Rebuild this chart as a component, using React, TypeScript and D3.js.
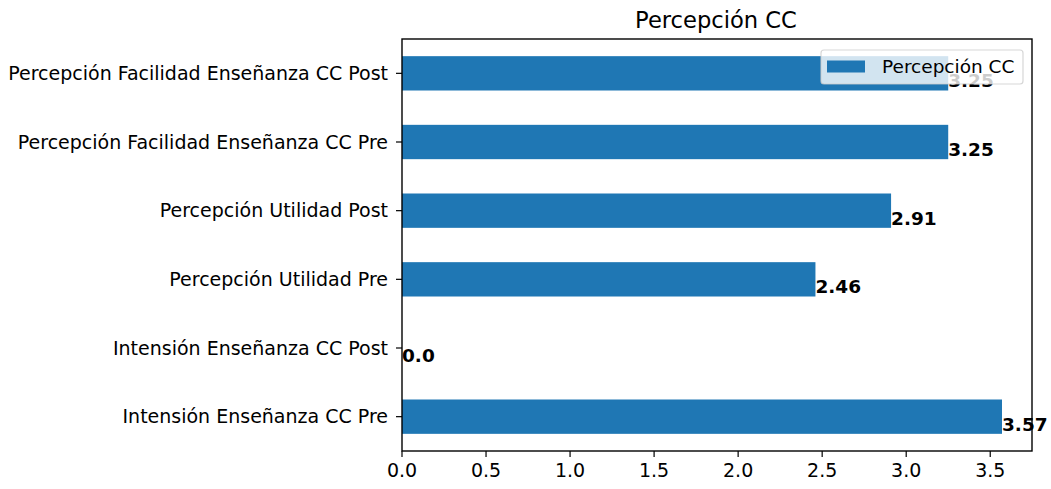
import React from 'react';
import * as d3 from 'd3';

// datos (de abajo hacia arriba, como en el barh de pandas)
const categories = [
  'Intensión Enseñanza CC Pre',
  'Intensión Enseñanza CC Post',
  'Percepción Utilidad Pre',
  'Percepción Utilidad Post',
  'Percepción Facilidad Enseñanza CC Pre',
  'Percepción Facilidad Enseñanza CC Post',
];
const values = [3.57, 0.0, 2.46, 2.91, 3.25, 3.25];
const xTickValues = [0, 0.5, 1, 1.5, 2, 2.5, 3, 3.5];
const seriesName = 'Percepción CC';
const title = 'Percepción CC';

const App = () => {
  const width = 1051;
  const height = 489;
  const margin = { top: 39, right: 19, bottom: 38, left: 402 };
  const innerWidth = width - margin.left - margin.right;
  const innerHeight = height - margin.top - margin.bottom;

  const font = '"DejaVu Sans", sans-serif';
  const fontSize = 19;
  const blue = '#1f77b4';

  // escalas
  const xScale = d3.scaleLinear().domain([0, d3.max(values)! * 1.05]).range([0, innerWidth]);
  const yScale = d3.scaleLinear().domain([-0.5, categories.length - 0.5]).range([innerHeight, 0]);
  const barH = yScale(0) - yScale(0.5);

  // leyenda
  const legend = { x: 419, y: 11, w: 202, h: 34 };

  return (
    <svg width={width} height={height} style={{ position: 'absolute', left: 0, top: 0 }} fontFamily={font}>
      <rect width={width} height={height} fill="white" />
      <text x={margin.left + innerWidth / 2 - 1} y={28} textAnchor="middle" fontSize={22.6} fill="#000">
        {title}
      </text>
      <g transform={`translate(${margin.left},${margin.top})`}>
        {/* barras */}
        {values.map((v, i) => (
          <rect
            key={categories[i]}
            x={xScale(0)}
            y={yScale(i) - barH / 2}
            width={xScale(v) - xScale(0)}
            height={barH}
            fill={blue}
          />
        ))}
        {/* etiquetas de valor */}
        {values.map((v, i) => (
          <text
            key={'lbl' + i}
            x={xScale(v)}
            y={yScale(i) + 14}
            fontSize={18.5}
            fontWeight="bold"
            fill="#000"
          >
            {String(v === 0 ? '0.0' : v)}
          </text>
        ))}
        {/* eje y */}
        {categories.map((c, i) => (
          <g key={c} transform={`translate(0,${yScale(i)})`}>
            <line x1={-6} x2={0} stroke="#000" strokeWidth={1.2} />
            <text x={-14} dy="0.35em" textAnchor="end" fontSize={fontSize} fill="#000">
              {c}
            </text>
          </g>
        ))}
        {/* eje x */}
        {xTickValues.map(t => (
          <g key={t} transform={`translate(${xScale(t)},${innerHeight})`}>
            <line y1={0} y2={6} stroke="#000" strokeWidth={1.2} />
            <text y={12} dy="0.76em" textAnchor="middle" fontSize={fontSize} fill="#000">
              {d3.format('.1f')(t)}
            </text>
          </g>
        ))}
        {/* marco */}
        <rect x={0} y={0} width={innerWidth} height={innerHeight} fill="none" stroke="#000" strokeWidth={1.4} />
        {/* leyenda */}
        <rect
          x={legend.x}
          y={legend.y}
          width={legend.w}
          height={legend.h}
          rx={3}
          fill="white"
          fillOpacity={0.8}
          stroke="#cccccc"
          strokeOpacity={0.8}
          strokeWidth={1.2}
        />
        <rect x={legend.x + 6} y={legend.y + 10.5} width={38} height={12} fill={blue} />
        <text x={legend.x + 61} y={legend.y + 23} fontSize={18.5} fill="#000">
          {seriesName}
        </text>
      </g>
    </svg>
  );
};

export default App;
